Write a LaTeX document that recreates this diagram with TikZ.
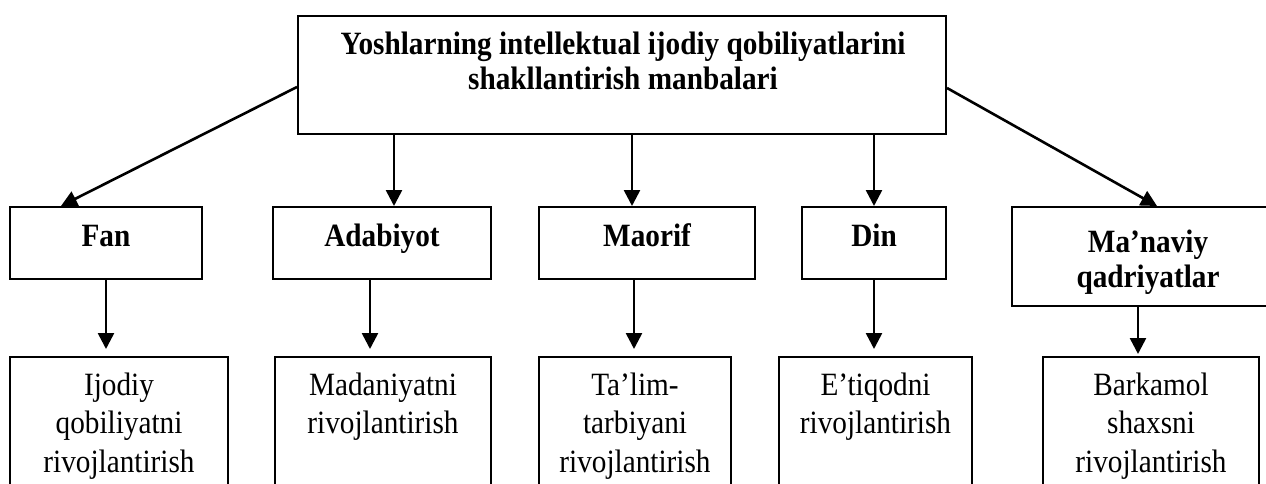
\documentclass[tikz,border=0pt]{standalone}
\usepackage{fontspec}
\setmainfont{Liberation Serif}[FakeStretch=0.9]
\usetikzlibrary{arrows.meta,calc}
\begin{document}
\begin{tikzpicture}[x=1pt,y=-1pt,
  box/.style={draw, line width=2pt, inner sep=0pt},
  arr/.style={line width=2.6pt, -{Triangle[length=16pt,width=16pt]}},
  bt/.style={font=\fontsize{32.5}{35}\selectfont\bfseries, inner sep=0pt, align=center},
  rt/.style={font=\fontsize{32.5}{38.8}\selectfont, inner sep=0pt, align=center}]
\fill[white] (0,0) rectangle (1266,484);
\useasboundingbox (0,0) rectangle (1266,484);
\clip (0,0) rectangle (1266,484);

% boxes
\node[box, minimum width=648pt, minimum height=118pt] (top) at (622,75) {};
\node[box, minimum width=192pt, minimum height=72pt] (fan) at (106,243) {};
\node[box, minimum width=218pt, minimum height=72pt] (adab) at (382,243) {};
\node[box, minimum width=216pt, minimum height=72pt] (maor) at (647,243) {};
\node[box, minimum width=144pt, minimum height=72pt] (din) at (874,243) {};
\node[box, minimum width=272pt, minimum height=99pt] (manav) at (1148,256.5) {};
\node[box, minimum width=218pt, minimum height=163pt] (ijod) at (119,438.5) {};
\node[box, minimum width=216pt, minimum height=163pt] (madan) at (383,438.5) {};
\node[box, minimum width=192pt, minimum height=163pt] (talim) at (635,438.5) {};
\node[box, minimum width=193pt, minimum height=163pt] (etiq) at (875.5,438.5) {};
\node[box, minimum width=216pt, minimum height=163pt] (bark) at (1151,438.5) {};

% texts
\node[bt, anchor=north] (topt) at (623,30) {\strut Yoshlarning intellektual ijodiy qobiliyatlarini\\shakllantirish manbalari};
\node[bt, anchor=base] (fant) at (106,246) {Fan};
\node[bt, anchor=base] (adabt) at (382,246) {Adabiyot};
\node[bt, anchor=base] (maort) at (647,246) {Maorif};
\node[bt, anchor=base] (dint) at (874,246) {Din};
\node[bt, anchor=north] (manavt) at (1148,228) {\strut Ma’naviy\\qadriyatlar};
\node[rt, anchor=north] (ijodt) at (119,367.8) {\strut Ijodiy\\qobiliyatni\\rivojlantirish};
\node[rt, anchor=north] (madant) at (383,367.8) {\strut Madaniyatni\\rivojlantirish};
\node[rt, anchor=north] (talimt) at (635,367.8) {\strut Ta’lim-\\tarbiyani\\rivojlantirish};
\node[rt, anchor=north] (etiqt) at (875.5,367.8) {\strut E’tiqodni\\rivojlantirish};
\node[rt, anchor=north] (barkt) at (1151,367.8) {\strut Barkamol\\shaxsni\\rivojlantirish};

% connectors, top row
\draw[arr] ($(top.west)+(0,12)$) -- ($(fan.north)+(-45,0)$);
\draw[arr] ($(top.south -| adab.north)+(12,0)$) -- ($(adab.north)+(12,0)$);
\draw[arr] ($(top.south -| maor.north)+(-15,0)$) -- ($(maor.north)+(-15,0)$);
\draw[arr] (top.south -| din.north) -- (din.north);
\draw[arr] ($(top.east)+(0,13)$) -- ($(manav.north)+(9,0)$);

% connectors, second row
\draw[arr] (fan.south) -- ($(fan.south |- ijod.north)+(0,-7)$);
\draw[arr] ($(adab.south)+(-12,0)$) -- ($(adab.south |- madan.north)+(-12,-7)$);
\draw[arr] ($(maor.south)+(-13,0)$) -- ($(maor.south |- talim.north)+(-13,-7)$);
\draw[arr] (din.south) -- ($(din.south |- etiq.north)+(0,-7)$);
\draw[arr] ($(manav.south)+(-10,0)$) -- ($(manav.south |- bark.north)+(-10,-2)$);
\end{tikzpicture}
\end{document}
